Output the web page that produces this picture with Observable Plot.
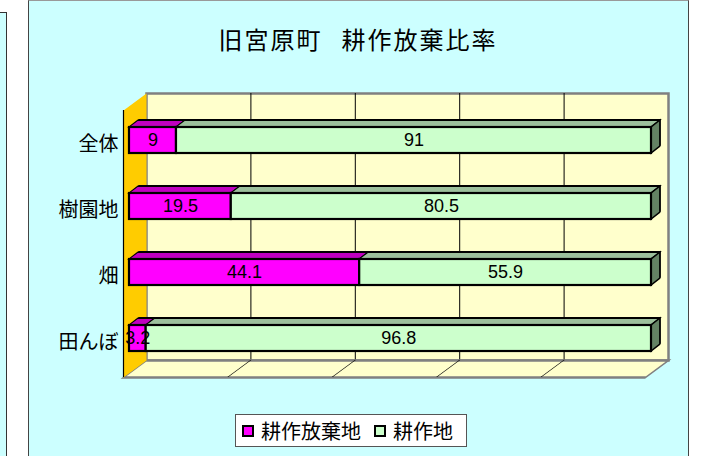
<!DOCTYPE html>
<html>
<head>
<meta charset="utf-8">
<script src="https://cdn.jsdelivr.net/npm/d3@7"></script>
<script src="https://cdn.jsdelivr.net/npm/@observablehq/plot@0.6"></script>
<style>
  html, body { margin: 0; padding: 0; background: #fff; }
  #wrap { position: relative; width: 706px; height: 456px; overflow: hidden; }
  #leftpanel { position: absolute; left: -10px; top: 12px; width: 17px; height: 470px; box-sizing: border-box;
               background: #CCFFFF; border: 1px solid #333; }
  #mainbox { position: absolute; left: 28px; top: 0px; width: 661px; height: 480px; box-sizing: border-box;
             background: #CCFFFF; border: 1.5px solid #444; border-top-color: #999; }
  #title { position: absolute; left: 28px; width: 660px; top: 23px; text-align: center; white-space: nowrap;
           font-family: 'Noto Sans CJK JP', sans-serif; font-size: 24px; line-height: 32px; letter-spacing: 2px; color: #000; }
  #chart { position: absolute; left: 0; top: 0; }
  #legend { position: absolute; left: 235px; top: 414px; width: 232px; height: 33px; box-sizing: border-box;
            background: #fff; border: 1px solid #555; display: flex; align-items: center; padding-left: 6px;
            font-family: 'Noto Sans CJK JP', sans-serif; font-size: 20px; color: #000; white-space: nowrap; }
  .lg-item { display: flex; align-items: center; }
  .lg-mark { display: inline-block; width: 12px; height: 12px; box-sizing: border-box; border: 2px solid #000; margin-right: 7px; }
</style>
</head>
<body>
<div id="wrap">
  <div id="leftpanel"></div>
  <div id="mainbox"></div>
  <div id="title"></div>
  <div id="chart"></div>
  <div id="legend"></div>
</div>
<script>
// ---- data ----
const titleMain = "旧宮原町";
const titleSub = "耕作放棄比率";
const categories = ["全体", "樹園地", "畑", "田んぼ"];
const series = ["耕作放棄地", "耕作地"];
const abandoned = [9, 19.5, 44.1, 3.2];
const cultivated = [91, 80.5, 55.9, 96.8];
const gridTicks = [0, 20, 40, 60, 80, 100];

// ---- styles ----
const seriesColors = ["#FF00FF", "#CCFFCC"];
const topColors = ["#C000C0", "#9CC09C"];
const endColor = "#648264";
const BX = 9, BD = 7;       // bar depth offset (px)
const WX = 23, WD = 17;     // wall depth offset (px)

// table built from arrays (stacked extents)
const valuesBySeries = [abandoned, cultivated];
const rows = [];
categories.forEach((c, i) => {
  let acc = 0;
  series.forEach((s, j) => {
    const v = valuesBySeries[j][i];
    rows.push({cat: c, series: s, value: v, x1: acc, x2: acc + v});
    acc += v;
  });
});

// title
const t = document.getElementById("title");
t.appendChild(document.createTextNode(titleMain));
const sp = document.createElement("span");
sp.style.marginLeft = "19px";
sp.textContent = titleSub;
t.appendChild(sp);

const W = 706, H = 456;
const mL = 123, mR = 61, mT = 110, mB = 79;
const plotW = W - mL - mR, plotH = H - mT - mB;

const barOpts = {x1: "x1", x2: "x2", y: "cat", dx: 6, dy: -4};

const chart = Plot.plot({
  width: W, height: H,
  marginLeft: mL, marginRight: mR, marginTop: mT, marginBottom: mB,
  style: {background: "transparent", fontFamily: "'Noto Sans CJK JP', sans-serif", fontSize: "20px", color: "#000"},
  x: {domain: [gridTicks[0], gridTicks[gridTicks.length - 1]], axis: null},
  y: {domain: categories, paddingInner: 0.6, paddingOuter: 0.3, label: null, tickSize: 0, tickPadding: 5},
  color: {domain: series, range: seriesColors},
  marks: [
    Plot.frame({fill: "#FFFFCC", stroke: "#808080", strokeWidth: 2.5, dx: WX, dy: -WD}),
    Plot.ruleX(gridTicks.slice(1, -1), {stroke: "#000", strokeWidth: 1, dx: WX, dy: -WD}),
    Plot.frame({insetTop: plotH - WD, fill: "#FFFFCC", stroke: "#808080", strokeWidth: 2.5, ariaDescription: "floor"}),
    Plot.ruleX(gridTicks.slice(1, -1), {insetTop: plotH - WD, stroke: "#000", strokeWidth: 1, ariaDescription: "floorgrid"}),
    Plot.frame({insetRight: plotW - WX, fill: "#FFCC00", stroke: "none", ariaDescription: "leftwall"}),
    Plot.ruleX([gridTicks[0]], {stroke: "#000", strokeWidth: 1.2}),
    ...series.map((s, j) => Plot.barX(rows, {...barOpts, filter: d => d.series === s, fill: topColors[j],
        stroke: "#000", strokeWidth: 1.8, strokeLinejoin: "round", ariaDescription: "top"})),
    Plot.barX(rows, {y: "cat", x1: "x2", x2: "x2", dx: 6, dy: -4, insetRight: -BX,
        filter: d => d.series === series[series.length - 1], fill: endColor,
        stroke: "#000", strokeWidth: 1.8, strokeLinejoin: "round", ariaDescription: "end"}),
    Plot.barX(rows, {...barOpts, fill: "series", stroke: "#000", strokeWidth: 2.2}),
    Plot.text(rows, {x: d => (d.x1 + d.x2) / 2, y: "cat", text: d => String(d.value), dx: 6, dy: -4,
        fontFamily: "'Liberation Sans', Arial, sans-serif", fontSize: 18, fill: "#000"})
  ]
});
document.getElementById("chart").appendChild(chart);

// ---- 3D shaping of the library-drawn rects ----
const deg = r => r * 180 / Math.PI;
function targets(desc, tag) {
  const out = [];
  chart.querySelectorAll(`[aria-description="${desc}"]`).forEach(el => {
    if (el.tagName.toLowerCase() === tag) out.push(el);
    else el.querySelectorAll(tag).forEach(e => out.push(e));
  });
  return out;
}
function addTransform(el, tr) {
  const prev = el.getAttribute("transform");
  el.setAttribute("transform", (prev ? prev + " " : "") + tr);
}
// bar top faces
targets("top", "rect").forEach(r => {
  const x = +r.getAttribute("x"), y = +r.getAttribute("y");
  r.setAttribute("y", y - BD);
  r.setAttribute("height", BD);
  addTransform(r, `translate(${x},${y}) skewX(${-deg(Math.atan(BX / BD))}) translate(${-x},${-y})`);
});
// bar end faces
targets("end", "rect").forEach(r => {
  const x = +r.getAttribute("x"), y = +r.getAttribute("y");
  addTransform(r, `translate(${x},${y}) skewY(${-deg(Math.atan(BD / BX))}) translate(${-x},${-y})`);
});
// floor
targets("floor", "rect").forEach(r => {
  const x = +r.getAttribute("x"), y = +r.getAttribute("y") + +r.getAttribute("height");
  addTransform(r, `translate(${x},${y}) skewX(${-deg(Math.atan(WX / WD))}) translate(${-x},${-y})`);
});
targets("floorgrid", "line").forEach(l => {
  const x = +l.getAttribute("x1"), y = Math.max(+l.getAttribute("y1"), +l.getAttribute("y2"));
  addTransform(l, `translate(${x},${y}) skewX(${-deg(Math.atan(WX / WD))}) translate(${-x},${-y})`);
});
// left wall
targets("leftwall", "rect").forEach(r => {
  const x = +r.getAttribute("x"), y = +r.getAttribute("y");
  addTransform(r, `translate(${x},${y}) skewY(${-deg(Math.atan(WD / WX))}) translate(${-x},${-y})`);
});

// legend
const lg = document.getElementById("legend");
series.forEach((s, j) => {
  const item = document.createElement("div");
  item.className = "lg-item";
  if (j > 0) item.style.marginLeft = "13px";
  const m = document.createElement("span");
  m.className = "lg-mark";
  m.style.background = seriesColors[j];
  const lab = document.createElement("span");
  lab.textContent = s;
  item.appendChild(m); item.appendChild(lab);
  lg.appendChild(item);
});
</script>
</body>
</html>
